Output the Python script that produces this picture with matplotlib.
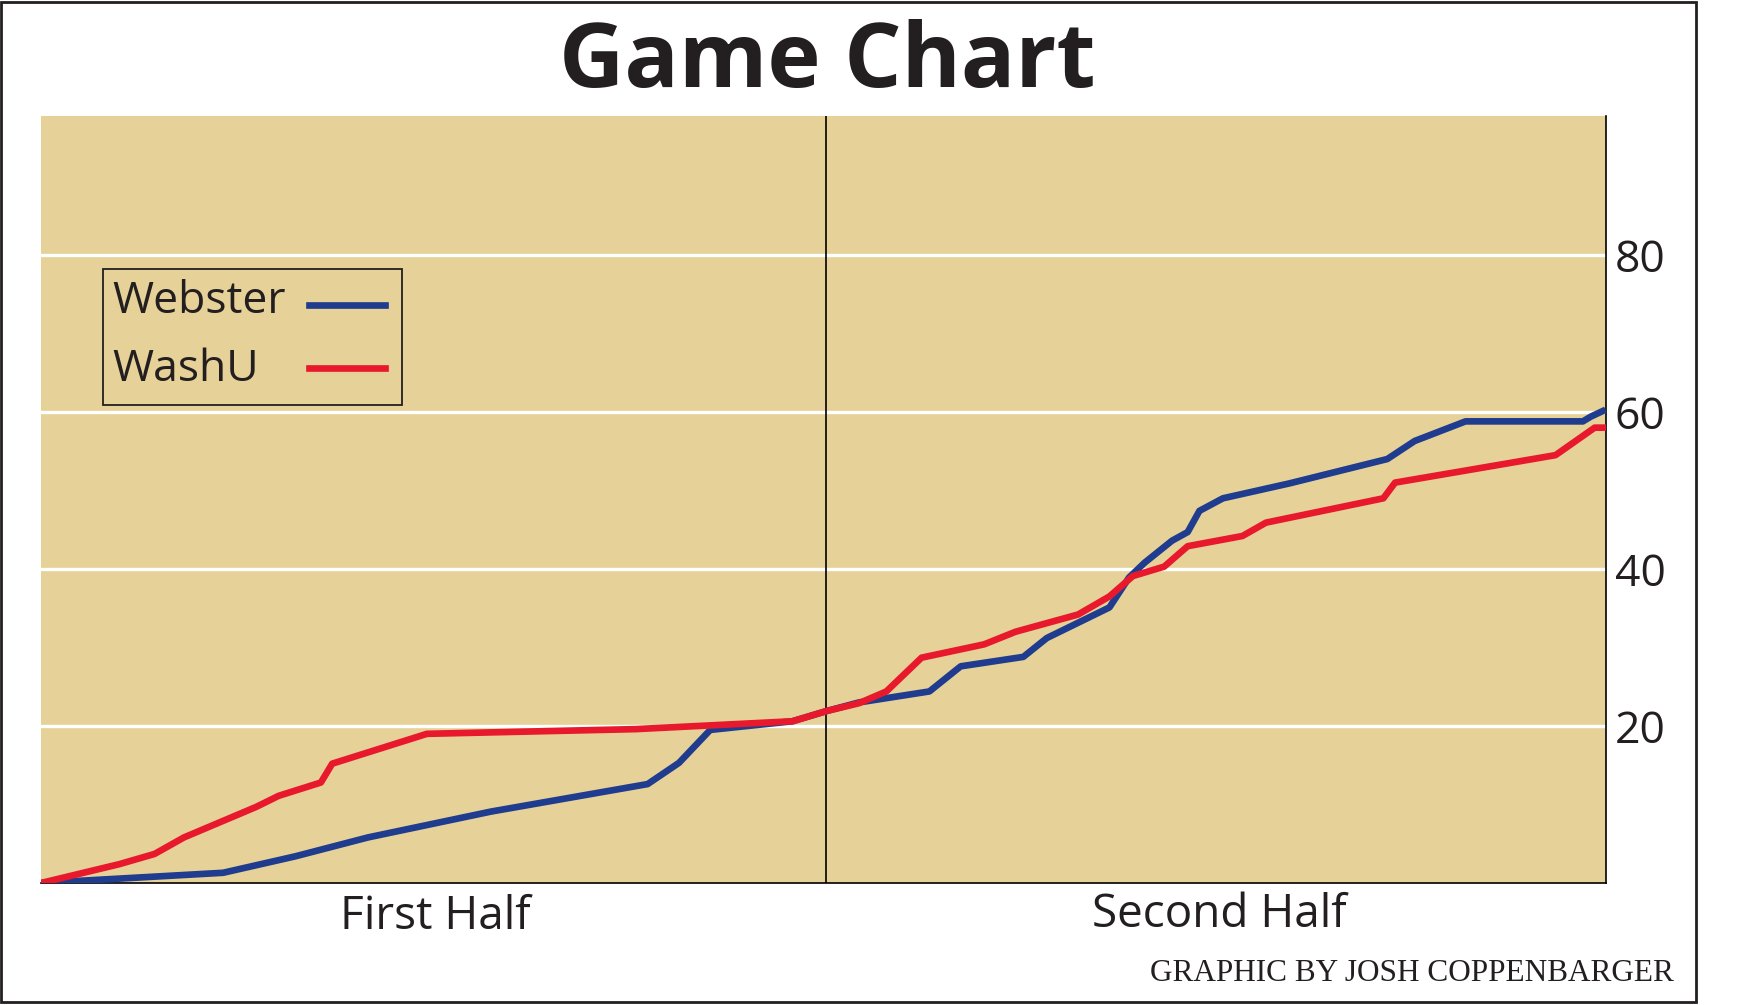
import matplotlib
matplotlib.use("Agg")
import matplotlib.pyplot as plt
from matplotlib.patches import Rectangle
from matplotlib.lines import Line2D

web_t = [0, 4.65, 6.5, 8.35, 11.5, 15.5, 16.3, 17.1, 19.2, 20.07, 20.9, 22.7, 23.5, 25.1, 25.7, 27.3, 27.8, 28.2, 28.9, 29.3, 29.6, 30.2, 31.9, 34.4, 35.1, 36.4, 39.4, 39.6, 39.9]
web_s = [0, 1.3, 3.4, 5.8, 9.1, 12.6, 15.3, 19.5, 20.6, 21.9, 23.0, 24.4, 27.6, 28.8, 31.2, 35.1, 38.9, 40.8, 43.6, 44.7, 47.4, 49.0, 50.9, 54.0, 56.3, 58.8, 58.8, 59.4, 60.1]
wu_t = [0, 2.0, 2.9, 3.65, 5.5, 6.07, 7.15, 7.44, 9.86, 15.2, 19.2, 20.07, 20.9, 21.6, 22.5, 24.1, 24.9, 26.5, 27.3, 27.9, 28.7, 29.3, 30.7, 31.3, 34.3, 34.6, 37.3, 38.7, 39.7, 40]
wu_s = [0, 2.4, 3.7, 5.8, 9.7, 11.1, 12.8, 15.2, 19.0, 19.6, 20.6, 21.9, 22.9, 24.4, 28.7, 30.4, 32.0, 34.2, 36.5, 39.1, 40.3, 42.9, 44.2, 45.9, 49.0, 51.0, 53.3, 54.5, 58.0, 58.0]
yticks = [20, 40, 60, 80]
halves = ["First Half", "Second Half"]

BLUE = "#1F3C8F"; RED = "#E8192C"; BG = "#E6D298"
plt.rcParams['font.family'] = ['Open Sans', 'DejaVu Sans']
fig = plt.figure(figsize=(17.48, 10.05), dpi=100)
ax = fig.add_axes([0.0235, 0.1214, 0.919 - 0.0235, 0.8846 - 0.1214])
ax.set_facecolor(BG)
ax.set_xlim(0, 40); ax.set_ylim(0, 97.7)
for y in yticks:
    ax.axhline(y, color="white", lw=2.4, zorder=1)
ax.axvline(20.07, color="black", lw=1.2, zorder=2)
ax.plot(web_t, web_s, color=BLUE, lw=4.8, zorder=3, solid_joinstyle="round")
ax.plot(wu_t, wu_s, color=RED, lw=4.8, zorder=4, solid_joinstyle="round")
for s in ["top", "left"]:
    ax.spines[s].set_visible(False)
for s in ["right", "bottom"]:
    ax.spines[s].set_linewidth(1.2)
ax.set_xticks([])
ax.yaxis.tick_right()
ax.set_yticks(yticks)
ax.set_yticklabels([str(v) for v in yticks], fontsize=32, color="#231F20")
ax.tick_params(axis="y", length=0, pad=6)

fig.text(827/1748, 1 - 64/1005, "Game Chart", ha="center", va="center", fontsize=65, fontweight="bold", color="#231F20")
fig.text(435/1748, 1 - 917/1005, halves[0], ha="center", va="center", fontsize=33, color="#231F20")
fig.text(1219/1748, 1 - 915/1005, halves[1], ha="center", va="center", fontsize=33, color="#231F20")
fig.text(1674/1748, 1 - 973/1005, "GRAPHIC BY JOSH COPPENBARGER", ha="right", va="center", fontsize=22.5, family="Liberation Serif", color="#231F20")

# legend box
fig.patches.append(Rectangle((103/1748, 1 - 405/1005), 299/1748, 136/1005, transform=fig.transFigure, facecolor=BG, edgecolor="#231F20", lw=1.3, zorder=5))
fig.text(112/1748, 1 - 302/1005, "Webster", ha="left", va="center", fontsize=32, color="#231F20", zorder=6)
fig.text(112/1748, 1 - 370/1005, "WashU", ha="left", va="center", fontsize=32, color="#231F20", zorder=6)
fig.lines.append(Line2D([309/1748, 385/1748], [1 - 305/1005] * 2, transform=fig.transFigure, color=BLUE, lw=4.8, zorder=6))
fig.lines.append(Line2D([309/1748, 385/1748], [1 - 368/1005] * 2, transform=fig.transFigure, color=RED, lw=4.8, zorder=6))
# outer frame
fig.patches.append(Rectangle((1/1748, 3/1005), 1695/1748, 1000/1005, transform=fig.transFigure, facecolor="none", edgecolor="#231F20", lw=2))
fig.savefig("out.png", dpi=100)
